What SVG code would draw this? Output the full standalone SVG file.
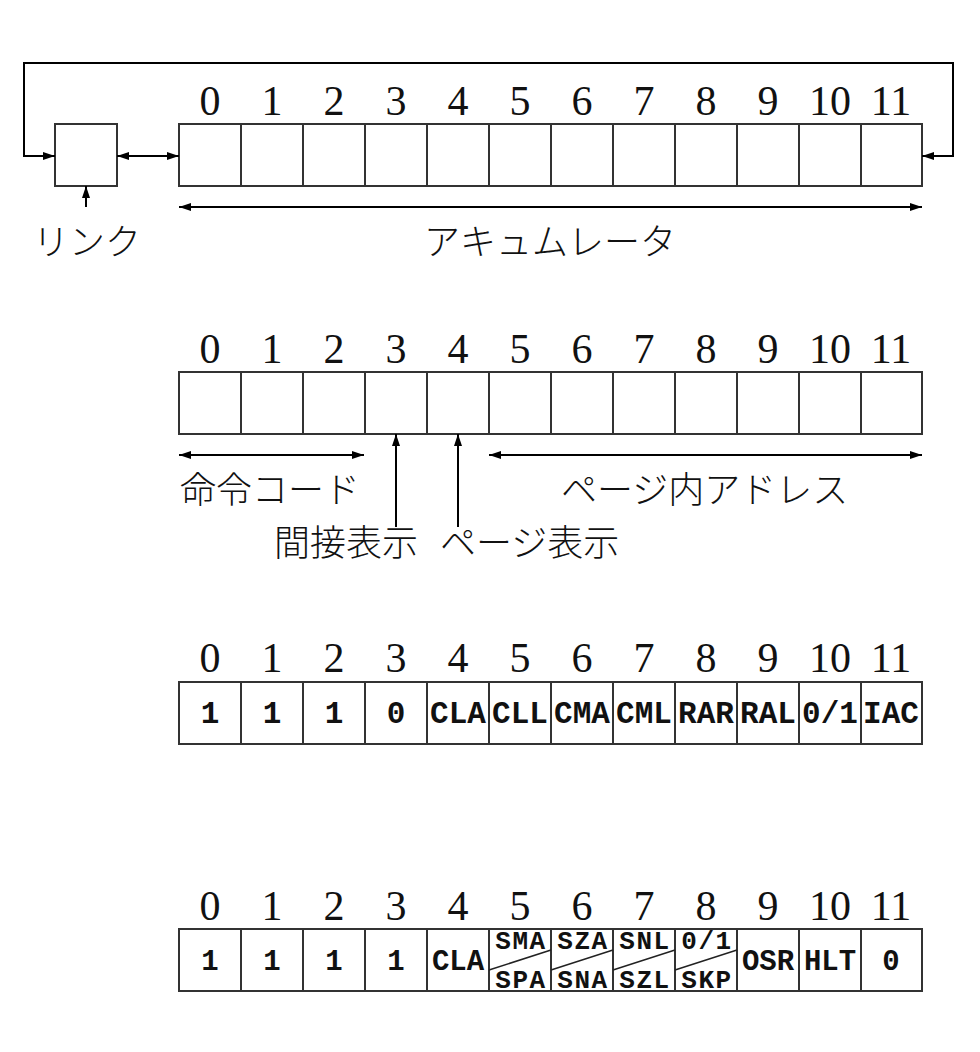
<svg xmlns="http://www.w3.org/2000/svg" width="980" height="1052" viewBox="0 0 980 1052">
<defs>
<marker id="ah" markerWidth="13" markerHeight="9" refX="12" refY="4.5" orient="auto-start-reverse" markerUnits="userSpaceOnUse">
<path d="M0,0.5 L12,4.5 L0,8.5 z" fill="#000"/>
</marker>
<style>
.box{fill:#fff;stroke:#333;stroke-width:2}
.div{stroke:#333;stroke-width:2}
.num{font-family:"Liberation Serif","DejaVu Serif",serif;font-size:42px;fill:#111;text-anchor:middle}
.jp{font-family:"Noto Sans CJK JP","Noto Sans CJK SC",sans-serif;font-size:36px;fill:#111;font-weight:300}
.b3{font-family:"Liberation Mono","DejaVu Sans Mono",monospace;font-weight:bold;font-size:31px;fill:#111;text-anchor:middle}
.b4{font-family:"Liberation Mono","DejaVu Sans Mono",monospace;font-weight:bold;font-size:29px;fill:#111;text-anchor:middle}
.sp{font-family:"Liberation Mono","DejaVu Sans Mono",monospace;font-weight:bold;font-size:26px;letter-spacing:1.5px;fill:#111;text-anchor:middle}
.con{fill:none;stroke:#000;stroke-width:2}
.arr{marker-end:url(#ah)}
.dbl{marker-start:url(#ah);marker-end:url(#ah)}
.diag{stroke:#222;stroke-width:1.5}
</style>
</defs>
<rect width="980" height="1052" fill="#fff"/>

<g id="link">
<rect class="box" x="55" y="124" width="62" height="62"/>
<text class="jp" x="33" y="255">リンク</text>
</g>

<g id="accumulator">
<rect class="box" x="179" y="124" width="743" height="62"/>
<path class="div" d="M241,124V186M303,124V186M365,124V186M427,124V186M489,124V186M551,124V186M613,124V186M675,124V186M737,124V186M799,124V186M861,124V186"/>
<g class="num">
<text x="210" y="115">0</text><text x="272" y="115">1</text><text x="334" y="115">2</text><text x="396" y="115">3</text><text x="458" y="115">4</text><text x="520" y="115">5</text><text x="582" y="115">6</text><text x="644" y="115">7</text><text x="706" y="115">8</text><text x="768" y="115">9</text><text x="830" y="115">10</text><text x="891" y="115">11</text>
</g>
<text class="jp" x="550" y="255" text-anchor="middle">アキュムレータ</text>
</g>

<g id="instruction">
<rect class="box" x="179" y="372" width="743" height="62"/>
<path class="div" d="M241,372V434M303,372V434M365,372V434M427,372V434M489,372V434M551,372V434M613,372V434M675,372V434M737,372V434M799,372V434M861,372V434"/>
<g class="num">
<text x="210" y="363">0</text><text x="272" y="363">1</text><text x="334" y="363">2</text><text x="396" y="363">3</text><text x="458" y="363">4</text><text x="520" y="363">5</text><text x="582" y="363">6</text><text x="644" y="363">7</text><text x="706" y="363">8</text><text x="768" y="363">9</text><text x="830" y="363">10</text><text x="891" y="363">11</text>
</g>
<text class="jp" x="180" y="503">命令コード</text>
<text class="jp" x="561" y="503">ページ内アドレス</text>
<text class="jp" x="274" y="556">間接表示</text>
<text class="jp" x="440" y="556">ページ表示</text>
</g>

<g id="group1">
<rect class="box" x="179" y="682" width="743" height="62"/>
<path class="div" d="M241,682V744M303,682V744M365,682V744M427,682V744M489,682V744M551,682V744M613,682V744M675,682V744M737,682V744M799,682V744M861,682V744"/>
<g class="num">
<text x="210" y="672">0</text><text x="272" y="672">1</text><text x="334" y="672">2</text><text x="396" y="672">3</text><text x="458" y="672">4</text><text x="520" y="672">5</text><text x="582" y="672">6</text><text x="644" y="672">7</text><text x="706" y="672">8</text><text x="768" y="672">9</text><text x="830" y="672">10</text><text x="891" y="672">11</text>
</g>
<g class="b3">
<text x="210" y="723">1</text><text x="272" y="723">1</text><text x="334" y="723">1</text><text x="396" y="723">0</text><text x="458" y="723">CLA</text><text x="520" y="723">CLL</text><text x="582" y="723">CMA</text><text x="644" y="723">CML</text><text x="706" y="723">RAR</text><text x="768" y="723">RAL</text><text x="830" y="723">0/1</text><text x="891" y="723">IAC</text>
</g>
</g>

<g id="group2">
<rect class="box" x="179" y="929" width="743" height="62"/>
<path class="div" d="M241,929V991M303,929V991M365,929V991M427,929V991M489,929V991M551,929V991M613,929V991M675,929V991M737,929V991M799,929V991M861,929V991"/>
<path class="diag" d="M489,970L551,950M551,970L613,950M613,970L675,950M675,970L737,950"/>
<g class="num">
<text x="210" y="920">0</text><text x="272" y="920">1</text><text x="334" y="920">2</text><text x="396" y="920">3</text><text x="458" y="920">4</text><text x="520" y="920">5</text><text x="582" y="920">6</text><text x="644" y="920">7</text><text x="706" y="920">8</text><text x="768" y="920">9</text><text x="830" y="920">10</text><text x="891" y="920">11</text>
</g>
<g class="b4">
<text x="210" y="970">1</text><text x="272" y="970">1</text><text x="334" y="970">1</text><text x="396" y="970">1</text><text x="458" y="970">CLA</text>
<text x="768" y="970">OSR</text><text x="830" y="970">HLT</text><text x="891" y="970">0</text>
</g>
<g class="sp">
<text x="521" y="949">SMA</text><text x="521" y="988">SPA</text>
<text x="583" y="949">SZA</text><text x="583" y="988">SNA</text>
<text x="645" y="949">SNL</text><text x="645" y="988">SZL</text>
<text x="707" y="949">0/1</text><text x="707" y="988">SKP</text>
</g>
</g>

<g id="connectors">
<path class="con dbl" d="M55,156H24V63H953V156H922"/>
<path class="con dbl" d="M117,156H179"/>
<path class="con arr" d="M86,207V186"/>
<path class="con dbl" d="M179,207H922"/>
<path class="con dbl" d="M179,455H364"/>
<path class="con dbl" d="M489,455H922"/>
<path class="con arr" d="M396,527V434"/>
<path class="con arr" d="M458,527V434"/>
</g>
</svg>
